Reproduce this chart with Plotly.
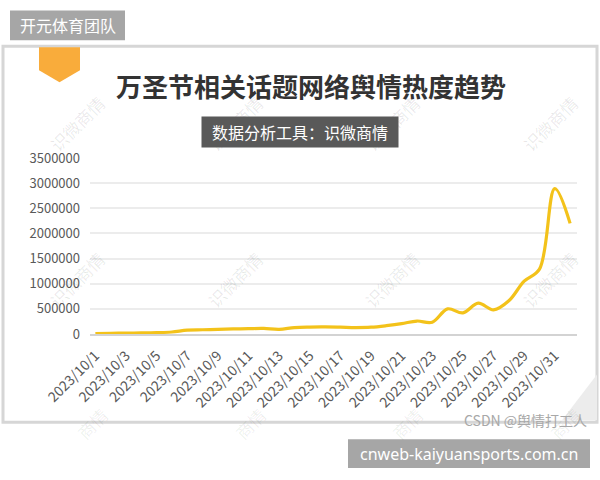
import plotly.graph_objects as go

# ---- data ----
dates = ["2023/10/%d" % d for d in range(1, 32)] + ["2023/11/1"]
heat = [10000, 15000, 18000, 22000, 28000, 40000, 78000, 85000, 92000, 100000,
        106000, 110000, 92000, 128000, 138000, 140000, 135000, 128000, 135000, 165000,
        205000, 258000, 235000, 500000, 420000, 615000, 480000, 660000, 1050000, 1290000,
        2890000, 2200000]
tick_dates = dates[0:31:2]
y_ticks = [0, 500000, 1000000, 1500000, 2000000, 2500000, 3000000, 3500000]
y_ticktext = [str(v) for v in y_ticks]

title = "万圣节相关话题网络舆情热度趋势"
subtitle = "数据分析工具：识微商情"
header = "开元体育团队"
footer = "cnweb-kaiyuansports.com.cn"
credit = "CSDN @舆情打工人"
watermark = "识微商情"

W, H = 600, 480
L, R, T, B = 90, 23, 158, 145.5
PW, PH = W - L - R, H - T - B

def px(x):
    return (x - L) / PW

def py(y):
    return (H - B - y) / PH

CJK = "Noto Sans CJK SC"

fig = go.Figure()
fig.add_trace(go.Scatter(
    x=dates, y=heat, mode="lines",
    line=dict(color="#F3C21A", width=3.2, shape="spline", smoothing=1.0),
    hoverinfo="skip", showlegend=False,
))

shapes = []
# frame
shapes.append(dict(type="rect", xref="paper", yref="paper",
                   x0=px(3), x1=px(597), y0=py(423), y1=py(46),
                   line=dict(color="#d6d6d6", width=3), fillcolor="rgba(0,0,0,0)", layer="below"))
# page curl
shapes.append(dict(type="path", xref="paper", yref="paper",
                   path="M %f %f L %f %f L %f %f Z" % (px(562), py(421), px(597), py(375), px(597), py(421)),
                   fillcolor="#ececec", line=dict(width=0), layer="below"))
# header box
shapes.append(dict(type="rect", xref="paper", yref="paper",
                   x0=px(10), x1=px(125), y0=py(40), y1=py(10),
                   fillcolor="#a6a6a6", line=dict(width=0)))
# badge
shapes.append(dict(type="path", xref="paper", yref="paper",
                   path="M %f %f L %f %f L %f %f L %f %f L %f %f Z" % (
                       px(39), py(47), px(80), py(47), px(80), py(70), px(59.5), py(82), px(39), py(70)),
                   fillcolor="#F9AC3B", line=dict(width=0)))
# footer box
shapes.append(dict(type="rect", xref="paper", yref="paper",
                   x0=px(348), x1=px(590), y0=py(469), y1=py(440),
                   fillcolor="#a6a6a6", line=dict(width=0)))

ann = []

def A(x, y, text, font, **kw):
    d = dict(x=px(x), y=py(y), xref="paper", yref="paper", text=text,
             showarrow=False, xanchor="center", yanchor="middle", font=font)
    d.update(kw)
    ann.append(d)

# watermarks
wm_pos = [(77, 123), (235, 123), (392, 123), (550, 123),
          (77, 280), (235, 280), (392, 280), (550, 280)]
for (x, y) in wm_pos:
    A(x, y, watermark, dict(family=CJK, size=17, color="rgba(0,0,0,0.09)"), textangle=-45)
for x in (92, 250, 407, 565):
    A(x, 424, "商情", dict(family=CJK, size=17, color="rgba(0,0,0,0.07)"), textangle=-45)
# header text
A(67.5, 25, header, dict(family=CJK, size=16, color="white"))
# title
A(311, 85, "<b>%s</b>" % title, dict(family=CJK, size=26, color="#333333"))
# subtitle box
A(300, 132, subtitle, dict(family=CJK, size=16, color="white"),
  width=196, height=30, bgcolor="#595959", borderpad=0)
# credit
A(589, 421, credit, dict(family=CJK, size=14, color="#a8a8a8"), xanchor="right")
# footer text
A(469, 454.5, footer, dict(family="Noto Sans", size=16, color="white"))

fig.update_layout(
    width=W, height=H,
    margin=dict(l=L, r=R, t=T, b=B, pad=0),
    paper_bgcolor="white", plot_bgcolor="white",
    shapes=shapes, annotations=ann,
    showlegend=False,
    xaxis=dict(type="category", range=[-0.35, 31.45], tickmode="array",
               tickvals=tick_dates, ticktext=tick_dates, tickangle=-45,
               showgrid=False, zeroline=False, showline=True,
               linecolor="#d3d3d3", linewidth=2, ticks="",
               ticklabelstandoff=6,
               tickfont=dict(family=CJK, size=14, color="#595959")),
    yaxis=dict(range=[0, 3500000], tickmode="array", tickvals=y_ticks, ticktext=y_ticktext,
               showgrid=True, gridcolor="#ececec", gridwidth=1.5, zeroline=False,
               showline=False, ticks="", ticklabelstandoff=9,
               tickfont=dict(family=CJK, size=13, color="#595959")),
)

fig.write_html("out.html")
